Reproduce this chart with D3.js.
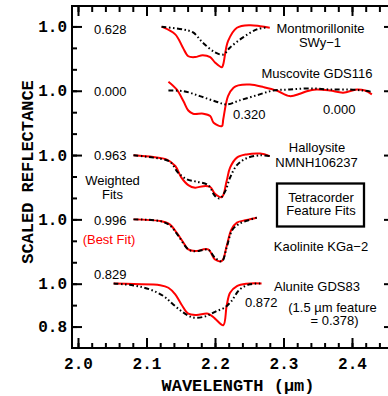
<!DOCTYPE html>
<html>
<head>
<meta charset="utf-8">
<script src="https://cdn.jsdelivr.net/npm/d3@7"></script>
<style>
  body { margin: 0; background: #fff; }
  svg { display: block; }
</style>
</head>
<body>
<svg id="chart" width="388" height="396"></svg>
<script>
// [wavelength (um), reflectance scaled to 1.0 at continuum]
const montObs = [[2.122,0.999],[2.142,0.963],[2.153,0.902],[2.161,0.861],[2.171,0.857],[2.182,0.866],[2.193,0.857],[2.200,0.832],[2.210,0.810],[2.212,0.823],[2.219,0.931],[2.232,0.994],[2.251,1.006],[2.266,1.001],[2.280,0.994]];
const montRef = [[2.122,0.999],[2.153,0.986],[2.168,0.972],[2.182,0.925],[2.200,0.879],[2.212,0.869],[2.222,0.902],[2.241,0.949],[2.261,0.986],[2.277,0.997]];

const muscObs = [[2.132,1.042],[2.144,1.006],[2.154,0.951],[2.161,0.908],[2.168,0.893],[2.183,0.893],[2.193,0.882],[2.198,0.851],[2.210,0.835],[2.212,0.866],[2.219,0.975],[2.227,1.014],[2.234,1.025],[2.251,1.029],[2.271,1.017],[2.290,1.001],[2.309,0.975],[2.324,0.986],[2.334,0.998],[2.348,1.006],[2.368,1.001],[2.387,0.991],[2.407,1.006],[2.419,1.001],[2.429,0.983]];
const muscRef = [[2.132,1.001],[2.154,0.998],[2.178,0.975],[2.202,0.949],[2.217,0.936],[2.236,0.955],[2.261,0.979],[2.285,1.001],[2.309,1.006],[2.339,1.011],[2.368,1.006],[2.397,1.006],[2.416,1.001],[2.429,0.995]];

const hallObs = [[2.081,0.999],[2.110,0.991],[2.129,0.980],[2.142,0.949],[2.151,0.895],[2.161,0.860],[2.171,0.848],[2.183,0.855],[2.193,0.851],[2.200,0.820],[2.210,0.804],[2.217,0.879],[2.222,0.941],[2.232,0.988],[2.246,1.003],[2.266,1.007],[2.280,0.995]];
const hallRef = [[2.081,0.999],[2.110,0.988],[2.134,0.969],[2.146,0.918],[2.159,0.887],[2.173,0.876],[2.190,0.860],[2.200,0.809],[2.207,0.798],[2.215,0.832],[2.222,0.895],[2.232,0.953],[2.246,0.985],[2.266,0.999],[2.280,0.995]];

const kaolObs = [[2.081,1.000],[2.120,0.992],[2.134,0.977],[2.144,0.938],[2.154,0.891],[2.161,0.860],[2.171,0.852],[2.190,0.860],[2.200,0.813],[2.210,0.806],[2.217,0.875],[2.224,0.953],[2.232,0.985],[2.246,0.997],[2.261,1.008]];
const kaolRef = [[2.081,1.000],[2.120,0.992],[2.134,0.972],[2.146,0.925],[2.161,0.860],[2.171,0.851],[2.190,0.858],[2.200,0.821],[2.210,0.804],[2.217,0.869],[2.225,0.949],[2.234,0.977],[2.246,0.993],[2.261,1.008]];

const aluObs = [[2.052,1.001],[2.081,0.998],[2.120,0.993],[2.132,0.981],[2.142,0.950],[2.151,0.903],[2.161,0.860],[2.173,0.854],[2.190,0.860],[2.200,0.837],[2.212,0.806],[2.217,0.896],[2.222,0.958],[2.232,0.989],[2.246,1.000],[2.268,1.001]];
const aluRef = [[2.052,1.001],[2.081,0.992],[2.105,0.973],[2.125,0.942],[2.139,0.903],[2.154,0.865],[2.168,0.842],[2.183,0.845],[2.193,0.857],[2.202,0.872],[2.214,0.888],[2.224,0.919],[2.236,0.973],[2.251,0.997],[2.268,1.001]];

const offsets = [1.2, 0.9, 0.6, 0.3, 0.0];
const observed = [montObs, muscObs, hallObs, kaolObs, aluObs];
const reference = [montRef, muscRef, hallRef, kaolRef, aluRef];

const yMajorTicks = [0.8, 1.0, 1.3, 1.6, 1.9, 2.2];
const yTickLabels = ["0.8", "1.0", "1.0", "1.0", "1.0", "1.0"];
const yMinorTicks = d3.range(8, 23).map(d => d / 10);
const xMajorTicks = [2.0, 2.1, 2.2, 2.3, 2.4];
const xTickLabels = ["2.0", "2.1", "2.2", "2.3", "2.4"];
const xMinorTicks = d3.range(100, 123).map(d => d / 50);

const svg = d3.select("#chart");
const plotLeft = 72, plotRight = 394, plotTop = 6, plotBottom = 348;

const x = d3.scaleLinear().domain([2.0, 2.4]).range([78, 352]);
const y = d3.scaleLinear().domain([0.7, 2.3]).range([plotBottom, 5]);

const monoFont = "'Liberation Mono', 'Courier New', monospace";
const sansFont = "'Liberation Sans', Arial, Helvetica, sans-serif";

// frame
svg.append("rect")
  .attr("x", plotLeft).attr("y", plotTop)
  .attr("width", plotRight - plotLeft).attr("height", plotBottom - plotTop)
  .attr("fill", "none").attr("stroke", "#000").attr("stroke-width", 2);

function styleAxis(g) {
  g.select(".domain").remove();
  g.selectAll("line").attr("stroke", "#000").attr("stroke-width", 2);
  g.selectAll("text")
    .attr("font-family", monoFont)
    .attr("font-size", 16)
    .attr("font-weight", "bold")
    .attr("fill", "#000");
}

// left
svg.append("g").attr("transform", `translate(${plotLeft},0)`)
  .call(d3.axisLeft(y).tickValues(yMinorTicks).tickSizeInner(-5).tickSizeOuter(0).tickFormat(""))
  .call(styleAxis);
svg.append("g").attr("transform", `translate(${plotLeft},0)`)
  .call(d3.axisLeft(y).tickValues(yMajorTicks).tickSizeInner(-10).tickSizeOuter(0)
    .tickPadding(5).tickFormat((d, i) => yTickLabels[i]))
  .call(styleAxis);

// right
svg.append("g").attr("transform", `translate(${plotRight},0)`)
  .call(d3.axisRight(y).tickValues(yMajorTicks).tickSizeInner(-10).tickSizeOuter(0).tickFormat(""))
  .call(styleAxis);

// bottom
svg.append("g").attr("transform", `translate(0,${plotBottom})`)
  .call(d3.axisBottom(x).tickValues(xMinorTicks).tickSizeInner(-5).tickSizeOuter(0).tickFormat(""))
  .call(styleAxis);
svg.append("g").attr("transform", `translate(0,${plotBottom})`)
  .call(d3.axisBottom(x).tickValues(xMajorTicks).tickSizeInner(-10).tickSizeOuter(0)
    .tickPadding(10).tickFormat((d, i) => xTickLabels[i]))
  .call(styleAxis);

// top
svg.append("g").attr("transform", `translate(0,${plotTop})`)
  .call(d3.axisTop(x).tickValues(xMinorTicks).tickSizeInner(-6).tickSizeOuter(0).tickFormat(""))
  .call(styleAxis);
svg.append("g").attr("transform", `translate(0,${plotTop})`)
  .call(d3.axisTop(x).tickValues(xMajorTicks).tickSizeInner(-10).tickSizeOuter(0).tickFormat(""))
  .call(styleAxis);

// axis titles
svg.append("text")
  .attr("x", 238).attr("y", 391)
  .attr("text-anchor", "middle")
  .attr("font-family", monoFont).attr("font-size", 17).attr("font-weight", "bold")
  .text("WAVELENGTH (\u00b5m)");
svg.append("text")
  .attr("transform", "translate(33,172) rotate(-90)")
  .attr("text-anchor", "middle")
  .attr("font-family", monoFont).attr("font-size", 17).attr("font-weight", "bold")
  .text("SCALED REFLECTANCE");

// spectra
const plot = svg.append("g");
observed.forEach((obs, i) => {
  const line = d3.line()
    .x(d => x(d[0]))
    .y(d => y(d[1] + offsets[i]))
    .curve(d3.curveCatmullRom.alpha(0.5));
  plot.append("path")
    .attr("d", line(obs))
    .attr("fill", "none").attr("stroke", "#ff0000").attr("stroke-width", 2);
  plot.append("path")
    .attr("d", line(reference[i]))
    .attr("fill", "none").attr("stroke", "#000").attr("stroke-width", 2)
    .attr("stroke-dasharray", "5,2.5,1.5,2.5,1.5,2.5");
});

// annotations
const notes = [
  ["0.628", 94, 33.5, "start", "#000"],
  ["0.000", 94, 96, "start", "#000"],
  ["0.963", 94, 160, "start", "#000"],
  ["Weighted", 112.5, 185, "middle", "#000"],
  ["Fits", 112.5, 199, "middle", "#000"],
  ["0.996", 94, 224.5, "start", "#000"],
  ["(Best Fit)", 109, 243.5, "middle", "#ff0000"],
  ["0.829", 94, 278.5, "start", "#000"],
  ["Montmorillonite", 320.5, 33, "middle", "#000"],
  ["SWy\u22121", 320, 46.5, "middle", "#000"],
  ["Muscovite GDS116", 317, 77.5, "middle", "#000"],
  ["0.320", 233, 118.5, "start", "#000"],
  ["0.000", 323, 113.5, "start", "#000"],
  ["Halloysite", 317, 152, "middle", "#000"],
  ["NMNH106237", 316.5, 166.5, "middle", "#000"],
  ["Tetracorder", 321, 201.5, "middle", "#000"],
  ["Feature Fits", 321, 215, "middle", "#000"],
  ["Kaolinite KGa\u22122", 321, 250.5, "middle", "#000"],
  ["Alunite GDS83", 317, 290.5, "middle", "#000"],
  ["0.872", 245, 306.5, "start", "#000"],
  ["(1.5 \u00b5m feature", 332.5, 311.5, "middle", "#000"],
  ["= 0.378)", 334.5, 325, "middle", "#000"]
];
svg.append("g").selectAll("text")
  .data(notes)
  .join("text")
  .attr("x", d => d[1]).attr("y", d => d[2])
  .attr("text-anchor", d => d[3])
  .attr("fill", d => d[4])
  .attr("font-family", sansFont).attr("font-size", 13)
  .text(d => d[0]);

svg.append("rect")
  .attr("x", 277).attr("y", 183.5).attr("width", 87).attr("height", 43)
  .attr("fill", "none").attr("stroke", "#000").attr("stroke-width", 2.3);
</script>
</body>
</html>
